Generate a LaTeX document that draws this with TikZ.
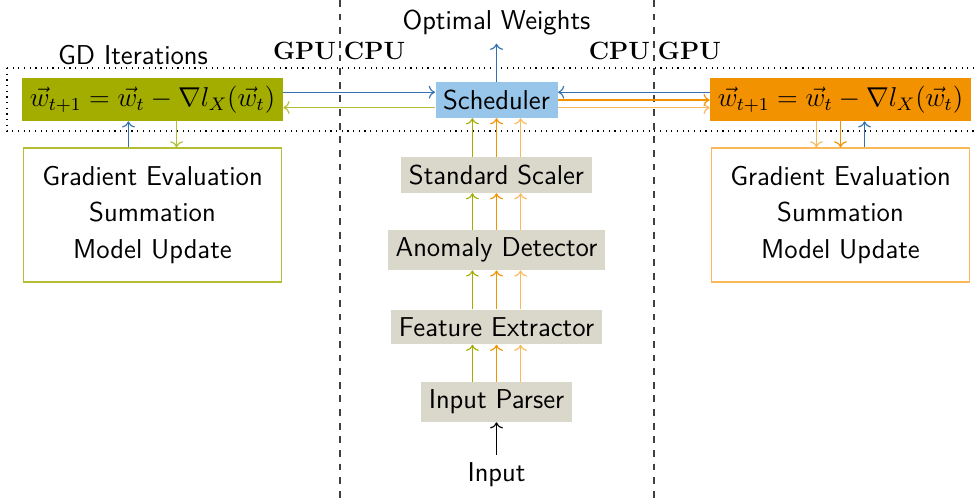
\documentclass[tikz,border=0pt]{standalone}
\usetikzlibrary{arrows.meta, positioning, calc}
\definecolor{tumblue}{HTML}{3070B3}
\definecolor{tumlightblue}{HTML}{98C6EA}
\definecolor{tumgreen}{HTML}{A2AD00}
\definecolor{tumorange}{HTML}{F39200}
\definecolor{tumlightorange}{HTML}{F9B95A}
\definecolor{tumbeige}{HTML}{DAD7CB}
\tikzset{
  every picture/.style={font=\sffamily\large, line width=0.5pt},
  stage/.style={fill=tumbeige},
  rule/.style={fill=#1},
  workbox/.style={draw=#1, fill=white, align=center, minimum width=113.5pt, minimum height=59pt},
  flow/.style={->, draw=#1},
  unit/.style={font=\fontsize{11pt}{13pt}\selectfont\rmfamily\bfseries, inner sep=1.5pt},
  border/.style={dashed, draw=black!75},
}
\newcommand{\gdsteps}{Gradient Evaluation\\[2pt] Summation\\[2pt] Model Update}
\newcommand{\gdrule}{$\vec{w}_{t+1} = \vec{w}_t - \nabla l_X(\vec{w}_t)$}

\begin{document}
\begin{tikzpicture}[x=0.44pt, y=-0.44pt]
  \useasboundingbox (0,0) rectangle (976,502);
  % CPU / GPU borders
  \draw[border] (340,0) -- (340,502);
  \draw[border] (654,0) -- (654,502);
  \node[unit, anchor=east] (gpuL) at (340,51) {GPU};
  \node[unit, anchor=west] (cpuL) at (340,51) {CPU};
  \node[unit, anchor=east] (cpuR) at (654,51) {CPU};
  \node[unit, anchor=west] (gpuR) at (654,51) {GPU};
  \draw[dotted] (7,68) rectangle (990,131);
  \node (gd) at (133,55) {GD Iterations};
  % pipeline
  \node[fill=tumlightblue] (sched) at (496.5,100) {Scheduler};
  \node (out) at (496.5,23) {Optimal Weights};
  \node[stage] (scaler) at (496.5,175) {Standard Scaler};
  \node[stage] (anomaly) at (496.5,250) {Anomaly Detector};
  \node[stage] (feature) at (496.5,327) {Feature Extractor};
  \node[stage] (parser) at (496.5,402) {Input Parser};
  \node (in) at (496.5,475) {Input};
  \draw[flow=black] (in) -- (parser);
  \draw[flow=tumblue] (sched) -- (out);
  \foreach \lo/\hi in {parser/feature, feature/anomaly, anomaly/scaler, scaler/sched}
    \foreach \dx/\c in {-10.6pt/tumgreen, 0pt/tumorange, 10.6pt/tumlightorange}
      \draw[flow=\c] ([xshift=\dx]\lo.north) -- ([xshift=\dx]\hi.south);
  % GPU workers
  \node[rule=tumgreen] (eqL) at (152.5,99.5) {\gdrule};
  \node[rule=tumorange] (eqR) at (840.5,99.5) {\gdrule};
  \node[workbox=tumgreen!80] (boxL) at (152.5,215) {\gdsteps};
  \node[workbox=tumlightorange] (boxR) at (840.5,215) {\gdsteps};
  \draw[flow=tumblue] ([yshift=3.2pt]eqL.east) -- ([yshift=3.2pt]eqL.east -| sched.west);
  \draw[flow=tumgreen!80] ([yshift=-3.3pt]sched.west) -- ([yshift=-3.3pt]sched.west -| eqL.east);
  \draw[flow=tumblue] ([yshift=3.2pt]eqR.west) -- ([yshift=3.2pt]eqR.west -| sched.east);
  \draw[flow=tumorange] (sched.east) -- (sched.east -| eqR.west);
  \draw[flow=tumlightorange] ([yshift=-3.4pt]sched.east) -- ([yshift=-3.4pt]sched.east -| eqR.west);
  \draw[flow=tumblue] ([xshift=-10.6pt]boxL.north) -- ([xshift=-10.6pt]eqL.south);
  \draw[flow=tumgreen!80] ([xshift=10.6pt]eqL.south) -- ([xshift=10.6pt]boxL.north);
  \draw[flow=tumlightorange] ([xshift=-10.6pt]eqR.south) -- ([xshift=-10.6pt]boxR.north);
  \draw[flow=tumorange] (eqR.south) -- (boxR.north);
  \draw[flow=tumblue] ([xshift=10.6pt]boxR.north) -- ([xshift=10.6pt]eqR.south);
\end{tikzpicture}
\end{document}
